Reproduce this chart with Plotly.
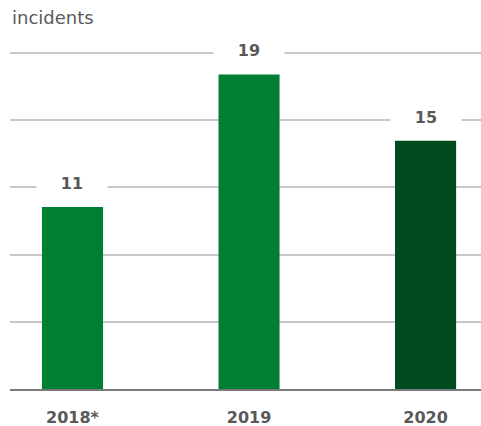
import plotly.graph_objects as go

categories = ["2018*", "2019", "2020"]
values = [11, 19, 15]
bar_colors = ["#007E33", "#007E33", "#004A1F"]
y_title = "incidents"
grid_top = 20.3
y_max = 20.6

x_pos = list(range(len(categories)))
grid_vals = [grid_top * i / 5 for i in range(1, 6)]

FONT = "DejaVu Sans"

fig = go.Figure()
fig.add_trace(go.Bar(
    x=x_pos, y=values, width=0.346,
    marker=dict(color=bar_colors, line=dict(width=0)),
    hoverinfo="skip",
))

for xi, v in zip(x_pos, values):
    fig.add_annotation(
        x=xi, y=v, xref="x", yref="y", text=f"<b>{v}</b>",
        showarrow=False, yanchor="middle", yshift=24,
        bgcolor="white", width=68, height=22,
        font=dict(family=FONT, size=16, color="#595959"),
    )

fig.add_annotation(
    x=0, y=1, xref="paper", yref="paper", text=y_title,
    showarrow=False, xanchor="left", yanchor="middle", yshift=31,
    font=dict(family=FONT, size=18, color="#595959"),
)

fig.update_layout(
    width=481, height=426,
    margin=dict(l=10, r=0, t=48, b=36.5, autoexpand=False),
    plot_bgcolor="white", paper_bgcolor="white",
    showlegend=False,
    xaxis=dict(
        range=[-0.354, 2.314], tickmode="array", tickvals=x_pos,
        ticktext=[f"<b>{c}</b>" for c in categories],
        showgrid=False, zeroline=False, automargin=False,
        showline=True, linecolor="#7a7a7a", linewidth=1.5,
        ticks="", ticklabelstandoff=13,
        tickfont=dict(family=FONT, size=16, color="#595959"),
        fixedrange=True,
    ),
    yaxis=dict(
        range=[0, y_max], tickmode="array", tickvals=grid_vals,
        showticklabels=False, showgrid=True, gridcolor="#c8c8c8", gridwidth=1.5,
        zeroline=False, showline=False, fixedrange=True, automargin=False,
    ),
)

fig.write_html("out.html", config={"displayModeBar": False},
               post_script="document.body.style.margin='0';")
